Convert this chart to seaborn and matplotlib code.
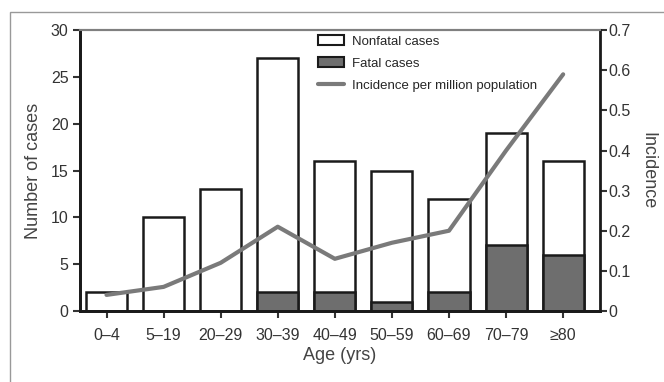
import numpy as np
import pandas as pd
import seaborn as sns
import matplotlib.pyplot as plt
from matplotlib.patches import Patch, Rectangle
from matplotlib.lines import Line2D

# values
age_groups = ['0\u20134', '5\u201319', '20\u201329', '30\u201339', '40\u201349',
              '50\u201359', '60\u201369', '70\u201379', '\u226580']
total_cases = [2, 10, 13, 27, 16, 15, 12, 19, 16]
fatal_cases = [0, 0, 0, 2, 2, 1, 2, 7, 6]
incidence = [0.04, 0.06, 0.12, 0.21, 0.13, 0.17, 0.20, 0.40, 0.59]

if __name__ == "__main__":
    sns.set_style('ticks')
    plt.rcParams['font.family'] = ['Liberation Sans', 'DejaVu Sans']

    df = pd.DataFrame({'age': age_groups, 'total': total_cases,
                       'fatal': fatal_cases, 'inc': incidence})

    fig = plt.figure(figsize=(6.64, 3.82), dpi=100)
    ax = fig.add_axes([0.120, 0.186, 0.784, 0.735])

    bar_w = 0.72
    sns.barplot(data=df, x='age', y='total', color='white', edgecolor='#1a1a1a',
                linewidth=1.8, width=bar_w, saturation=1, ax=ax)
    sns.barplot(data=df, x='age', y='fatal', color='#6e6e6e', edgecolor='#1a1a1a',
                linewidth=1.8, width=bar_w, saturation=1, ax=ax)

    ax.set_ylim(0, 30)
    ax.set_xlim(-0.47, 8.65)
    ax.set_yticks([0, 5, 10, 15, 20, 25, 30])
    ax.set_xlabel('Age (yrs)', fontsize=13, color='#444444', labelpad=3)
    ax.set_ylabel('Number of cases', fontsize=13, color='#444444', labelpad=6)
    ax.tick_params(axis='both', labelsize=11.5, colors='#333333', width=1.5, length=5)
    ax.tick_params(axis='x', pad=7)
    ax.tick_params(axis='y', pad=3)

    ax2 = ax.twinx()
    sns.lineplot(x=np.arange(len(age_groups)), y=df['inc'], color='#7a7a7a',
                 linewidth=3, ax=ax2)
    ax2.set_ylim(0, 0.7)
    ax2.set_yticks([0, 0.1, 0.2, 0.3, 0.4, 0.5, 0.6, 0.7])
    ax2.set_yticklabels(['0', '0.1', '0.2', '0.3', '0.4', '0.5', '0.6', '0.7'])
    ax2.set_ylabel('Incidence', fontsize=13, color='#444444', rotation=270, labelpad=18)
    ax2.tick_params(axis='y', labelsize=11.5, colors='#333333', width=1.5, length=5, pad=1)

    for a in (ax, ax2):
        for side in ('left', 'right', 'bottom'):
            a.spines[side].set_linewidth(2)
            a.spines[side].set_color('#1a1a1a')
        a.spines['top'].set_visible(True)
        a.spines['top'].set_color('#808080')
        a.spines['top'].set_linewidth(1.5)
    ax.spines['right'].set_visible(False)

    handles = [Patch(facecolor='white', edgecolor='#1a1a1a', linewidth=1.5),
               Patch(facecolor='#6e6e6e', edgecolor='#1a1a1a', linewidth=1.5),
               Line2D([0], [0], color='#7a7a7a', linewidth=3)]
    labels = ['Nonfatal cases', 'Fatal cases', 'Incidence per million population']
    ax2.legend(handles, labels, loc='upper left', bbox_to_anchor=(0.44, 1.015),
               frameon=False, fontsize=9.5, handlelength=2.0, handleheight=0.8,
               handletextpad=0.6, labelspacing=0.7, borderaxespad=0.3)

    # light frame around the figure
    fig.patches.append(Rectangle((10 / 664, -0.05), 1.0, 1 - 12 / 382 + 0.05,
                                 transform=fig.transFigure, fill=False,
                                 edgecolor='#999999', linewidth=1.0))

    fig.savefig('out.png', dpi=100)
